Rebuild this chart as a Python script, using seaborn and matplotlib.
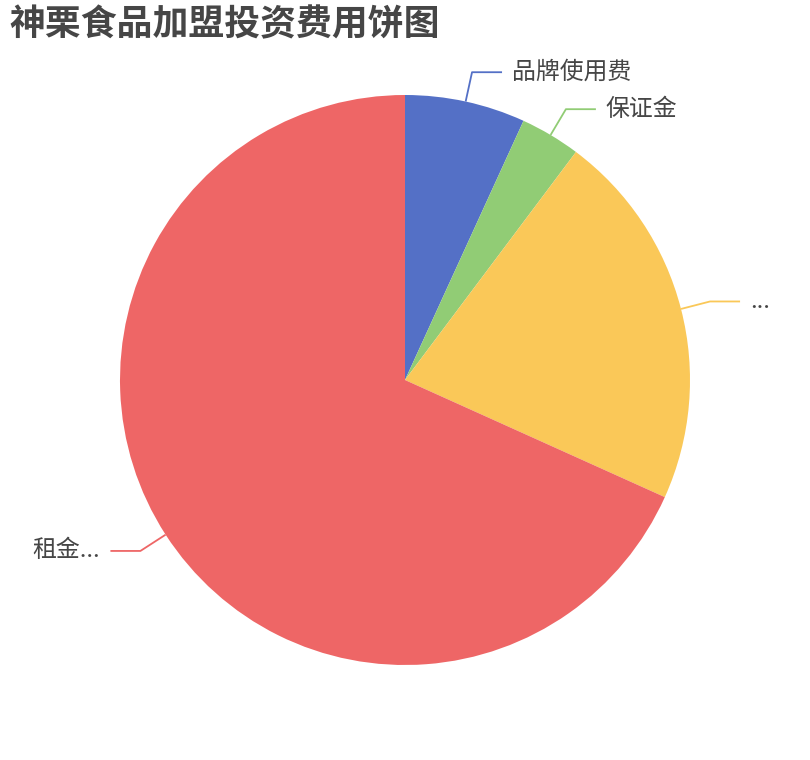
import numpy as np
import matplotlib
matplotlib.use("Agg")
import matplotlib.pyplot as plt
import seaborn as sns

# data
categories = ["品牌使用费", "保证金", "...", "租金..."]
values = [2.0, 1.0, 6.3, 20.0]
colors = ["#5470c6", "#91cc75", "#fac858", "#ee6666"]
title = "神栗食品加盟投资费用饼图"

sns.set_theme(style="white")
plt.rcParams['font.family'] = ['Noto Sans CJK SC', 'DejaVu Sans']

W, H = 810, 760
fig = plt.figure(figsize=(W / 100, H / 100), dpi=100)
ax = fig.add_axes([0, 0, 1, 1])

cx, cy, R = 405, H - 380, 285
wedges, _ = ax.pie(values, colors=sns.color_palette(colors), startangle=90,
                   counterclock=False, center=(cx, cy), radius=R,
                   wedgeprops=dict(linewidth=0))
ax.set_xlim(0, W)
ax.set_ylim(0, H)
ax.set_aspect("equal")
ax.axis("off")

len1, len2, gap = 30, 30, 10
for w, lab, col in zip(wedges, categories, colors):
    ang = np.deg2rad((w.theta1 + w.theta2) / 2)
    x0, y0 = cx + R * np.cos(ang), cy + R * np.sin(ang)
    x1, y1 = cx + (R + len1) * np.cos(ang), cy + (R + len1) * np.sin(ang)
    side = 1 if np.cos(ang) >= 0 else -1
    x2 = x1 + side * len2
    ax.plot([x0, x1, x2], [y0, y1, y1], color=col, lw=1.3, solid_capstyle="butt")
    ax.text(x2 + side * gap, y1, lab, ha="left" if side > 0 else "right",
            va="center", fontsize=17.2, color="#464646")

fig.text(9 / W, 1 - 25 / H, title, fontsize=25.8, fontweight="bold",
         color="#464646", ha="left", va="center")

fig.savefig("out.png", dpi=100, facecolor="white")
